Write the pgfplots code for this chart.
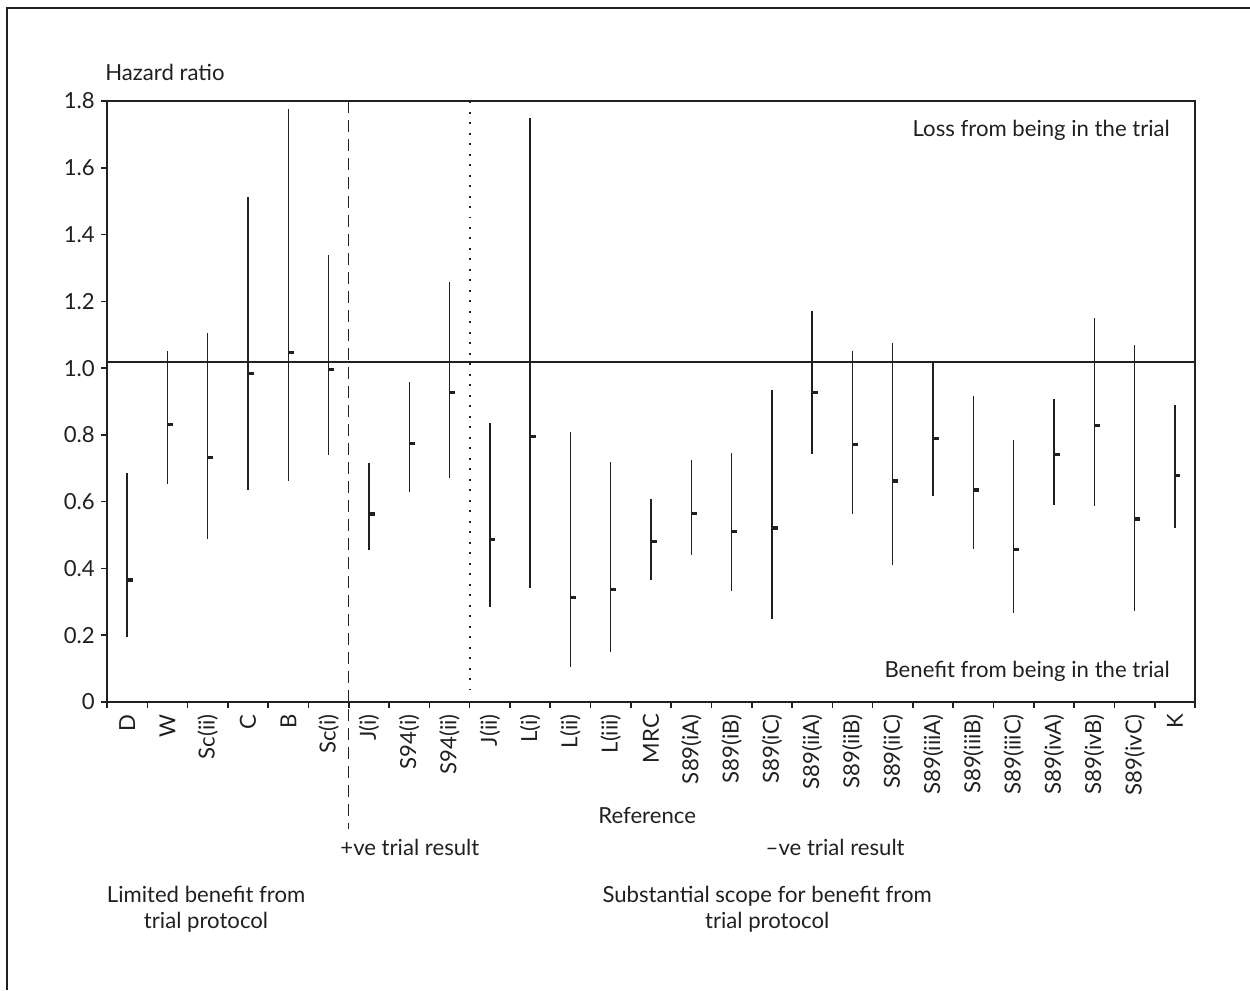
\documentclass[border=0pt]{standalone}
\usepackage{fontspec}
\setmainfont{Lato}
\usepackage{pgfplots}
\pgfplotsset{compat=1.18}
\usepackage{pgfplotstable}

\definecolor{ink}{HTML}{231F20}

% small filled dash to the right of the point
\pgfdeclareplotmark{hrdash}{%
  \pgfpathrectangle{\pgfpoint{0pt}{-1.05pt}}{\pgfpoint{3.2pt}{2.1pt}}%
  \pgfusepathqfill}

% hazard ratio, lower and upper limit per trial
\pgfplotstableread{
x    est    lo     hi
0.5  0.365  0.195  0.686
1.5  0.831  0.654  1.052
2.5  0.732  0.488  1.105
3.5  0.984  0.635  1.512
4.5  1.047  0.662  1.775
5.5  0.996  0.741  1.338
6.5  0.564  0.455  0.715
7.5  0.774  0.628  0.959
8.5  0.927  0.671  1.257
9.5  0.487  0.286  0.835
10.5 0.795  0.340  1.750
11.5 0.313  0.106  0.808
12.5 0.337  0.149  0.718
13.5 0.481  0.364  0.609
14.5 0.565  0.441  0.724
15.5 0.511  0.331  0.747
16.5 0.522  0.250  0.935
17.5 0.927  0.743  1.170
18.5 0.771  0.563  1.050
19.5 0.662  0.410  1.075
20.5 0.789  0.618  1.020
21.5 0.635  0.458  0.917
22.5 0.457  0.266  0.784
23.5 0.741  0.590  0.908
24.5 0.828  0.587  1.150
25.5 0.549  0.273  1.068
26.5 0.678  0.520  0.890
}\hrdata

\begin{document}
\begin{tikzpicture}[font=\fontsize{12.6}{14.5}\selectfont, color=ink]
\useasboundingbox (0,0) rectangle (25cm,-19.8cm);
\begin{axis}[
  at={(2.14cm,-14.04cm)}, anchor=south west,
  scale only axis, width=21.76cm, height=12.02cm,
  xmin=0, xmax=27, ymin=0, ymax=1.8,
  clip=false,
  axis line style={ink, line width=0.9pt},
  tick align=outside,
  xtick pos=bottom, ytick pos=left,
  tick style={ink, line width=0.9pt},
  major tick length=0.12cm, minor tick length=0.12cm,
  xtick={0.5,1.5,...,26.5},
  xticklabels={D,W,Sc(ii),C,B,Sc(i),J(i),S94(i),S94(ii),J(ii),L(i),L(ii),L(iii),MRC,S89(iA),S89(iB),S89(iC),S89(iiA),S89(iiB),S89(iiC),S89(iiiA),S89(iiiB),S89(iiiC),S89(ivA),S89(ivB),S89(ivC),K},
  minor xtick={0,1,...,27},
  major x tick style={draw=none},
  xticklabel style={rotate=90, anchor=east},
  ytick={0,0.2,0.4,0.6,0.8,1,1.2,1.4,1.6,1.8},
  yticklabels={0,0.2,0.4,0.6,0.8,1.0,1.2,1.4,1.6,1.8},
  ]
  \addplot[ink, line width=0.8pt] coordinates {(0,1.018) (27,1.018)};
  \addplot[ink, only marks, mark=hrdash,
    error bars/.cd, y dir=both, y explicit, error mark=none,
    error bar style={ink, line width=0.8pt}]
    table[x=x, y=est,
      y error plus expr=\thisrow{hi}-\thisrow{est},
      y error minus expr=\thisrow{est}-\thisrow{lo}] {\hrdata};
  \draw[ink, line width=0.8pt, dash pattern=on 0.24cm off 0.14cm]
    (axis cs:6,1.8) -- (axis cs:6,-0.38);
  \draw[ink, line width=1pt, dash pattern=on 0.04cm off 0.17cm]
    (axis cs:9,1.8) -- (axis cs:9,0.035);
\end{axis}
\begin{scope}[x=0.02cm, y=-0.02cm]
  \draw[ink, line width=1.1pt] (1250,8) -- (7,8) -- (7,990);
  \node[anchor=west, inner sep=0pt] at (105,72) {Hazard ratio};
  \node[anchor=east, inner sep=0pt] at (1170,130) {Loss from being in the trial};
  \node[anchor=east, inner sep=0pt] at (1170,671) {Benefit from being in the trial};
  \node at (647,815) {Reference};
  \node[anchor=west, inner sep=0pt] at (340,847) {+ve trial result};
  \node at (835,847) {–ve trial result};
  \node[align=center] at (206,909) {Limited benefit from\\trial protocol};
  \node[align=center] at (767,909) {Substantial scope for benefit from\\trial protocol};
\end{scope}
\end{tikzpicture}
\end{document}
